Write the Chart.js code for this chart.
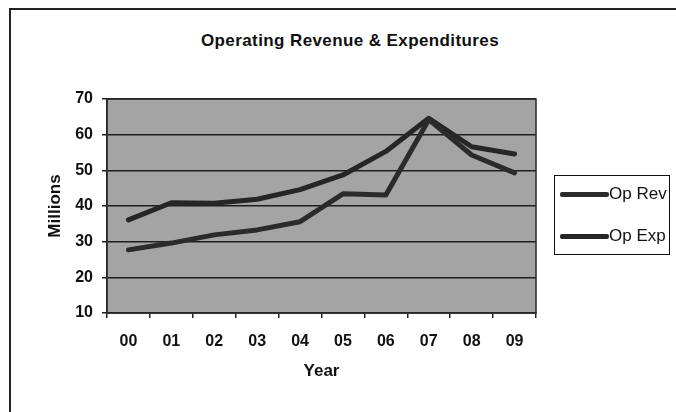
<!DOCTYPE html>
<html>
<head>
<meta charset="utf-8">
<script src="https://cdn.jsdelivr.net/npm/chart.js@4"></script>
<style>
    body { margin: 0; background: #fff; font-family: "Liberation Sans", Arial, sans-serif; }
    #wrap { position: relative; width: 676px; height: 412px; overflow: hidden; }
    #frame { position: absolute; left: 9px; top: 8px; width: 700px; height: 420px;
             border-top: 2px solid #222; border-left: 2px solid #222; }
    #title { position: absolute; left: 0; width: 700px; top: 31px; text-align: center;
             font-weight: bold; font-size: 17px; letter-spacing: 0.4px; color: #111; }
    #legend { position: absolute; left: 554px; top: 175px; width: 116px; height: 80px;
              border: 1.5px solid #111; box-sizing: border-box; }
    .item { position: absolute; left: 5px; display: flex; align-items: center;
            font-size: 17px; color: #111; }
    .item span.swatch { display: inline-block; width: 49px; height: 5px; border-radius: 2px; }
    canvas { position: absolute; left: 0; top: 0; }
</style>
</head>
<body>
<div id="wrap">
    <div id="frame"></div>
    <div id="title">Operating Revenue &amp; Expenditures</div>
    <canvas id="chart" width="676" height="412"></canvas>
    <div id="legend"></div>
</div>
<script>
// Chart data
const years = ['00', '01', '02', '03', '04', '05', '06', '07', '08', '09'];
const opRev = [27.7, 29.6, 31.9, 33.3, 35.6, 43.4, 43.1, 64.2, 54.3, 49.3];
const opExp = [36.1, 40.9, 40.8, 41.9, 44.6, 48.7, 55.3, 64.6, 56.6, 54.6];
const seriesNames = ['Op Rev', 'Op Exp'];
const seriesColors = ['#2b2b2b', '#262626'];

const yMin = 10;
const yMax = 70;
const yStep = 10;

// Gray plot background and frame around the plot area
const plotFrame = {
    id: 'plotFrame',
    beforeDraw(chart) {
        const { ctx, chartArea: a } = chart;
        ctx.save();
        ctx.fillStyle = '#a4a4a4';
        ctx.fillRect(a.left, a.top, a.right - a.left, a.bottom - a.top);
        ctx.restore();
    },
    afterDraw(chart) {
        const { ctx, chartArea: a } = chart;
        ctx.save();
        ctx.strokeStyle = '#2a2a2a';
        ctx.lineWidth = 1.5;
        ctx.strokeRect(a.left, a.top, a.right - a.left, a.bottom - a.top);
        ctx.restore();
    }
};

const chart = new Chart(document.getElementById('chart'), {
    type: 'line',
    data: {
        labels: years,
        datasets: [
            { label: seriesNames[0], data: opRev, borderColor: seriesColors[0] },
            { label: seriesNames[1], data: opExp, borderColor: seriesColors[1] }
        ]
    },
    options: {
        responsive: false,
        animation: false,
        layout: { padding: { top: 99, right: 140, bottom: 30, left: 0 } },
        elements: {
            line: { borderWidth: 5, tension: 0, borderCapStyle: 'round', borderJoinStyle: 'round' },
            point: { radius: 0 }
        },
        plugins: {
            legend: { display: false },
            title: { display: false },
            tooltip: { enabled: false }
        },
        scales: {
            x: {
                offset: true,
                grid: { offset: true, drawOnChartArea: false, drawTicks: true, tickLength: 5, color: '#222', lineWidth: 1.5 },
                border: { color: '#222', width: 1.5 },
                ticks: { padding: 14, color: '#111', font: { family: 'Liberation Sans', size: 16, weight: 'bold' } },
                title: { display: true, text: 'Year', color: '#111', padding: 0,
                         font: { family: 'Liberation Sans', size: 17, weight: 'bold' } },
                afterFit: (s) => { s.height = 69; }
            },
            y: {
                min: yMin,
                max: yMax,
                grid: { color: '#1e1e1e', lineWidth: 1.5, tickLength: 5 },
                border: { color: '#222', width: 1.5 },
                ticks: { stepSize: yStep, padding: 9, color: '#111', font: { family: 'Liberation Sans', size: 16, weight: 'bold' } },
                title: { display: true, text: 'Millions', color: '#111', padding: { top: 45, bottom: 0 },
                         font: { family: 'Liberation Sans', size: 17, weight: 'bold' } },
                afterFit: (s) => { s.width = 107; }
            }
        }
    },
    plugins: [plotFrame]
});

// Build the legend from the chart's datasets
const legend = document.getElementById('legend');
chart.data.datasets.forEach((ds, i) => {
    const item = document.createElement('div');
    item.className = 'item';
    item.style.top = (i === 0 ? 8 : 50) + 'px';
    item.innerHTML = `<span class="swatch" style="background:${ds.borderColor}"></span><span>${ds.label}</span>`;
    legend.appendChild(item);
});
</script>
</body>
</html>
